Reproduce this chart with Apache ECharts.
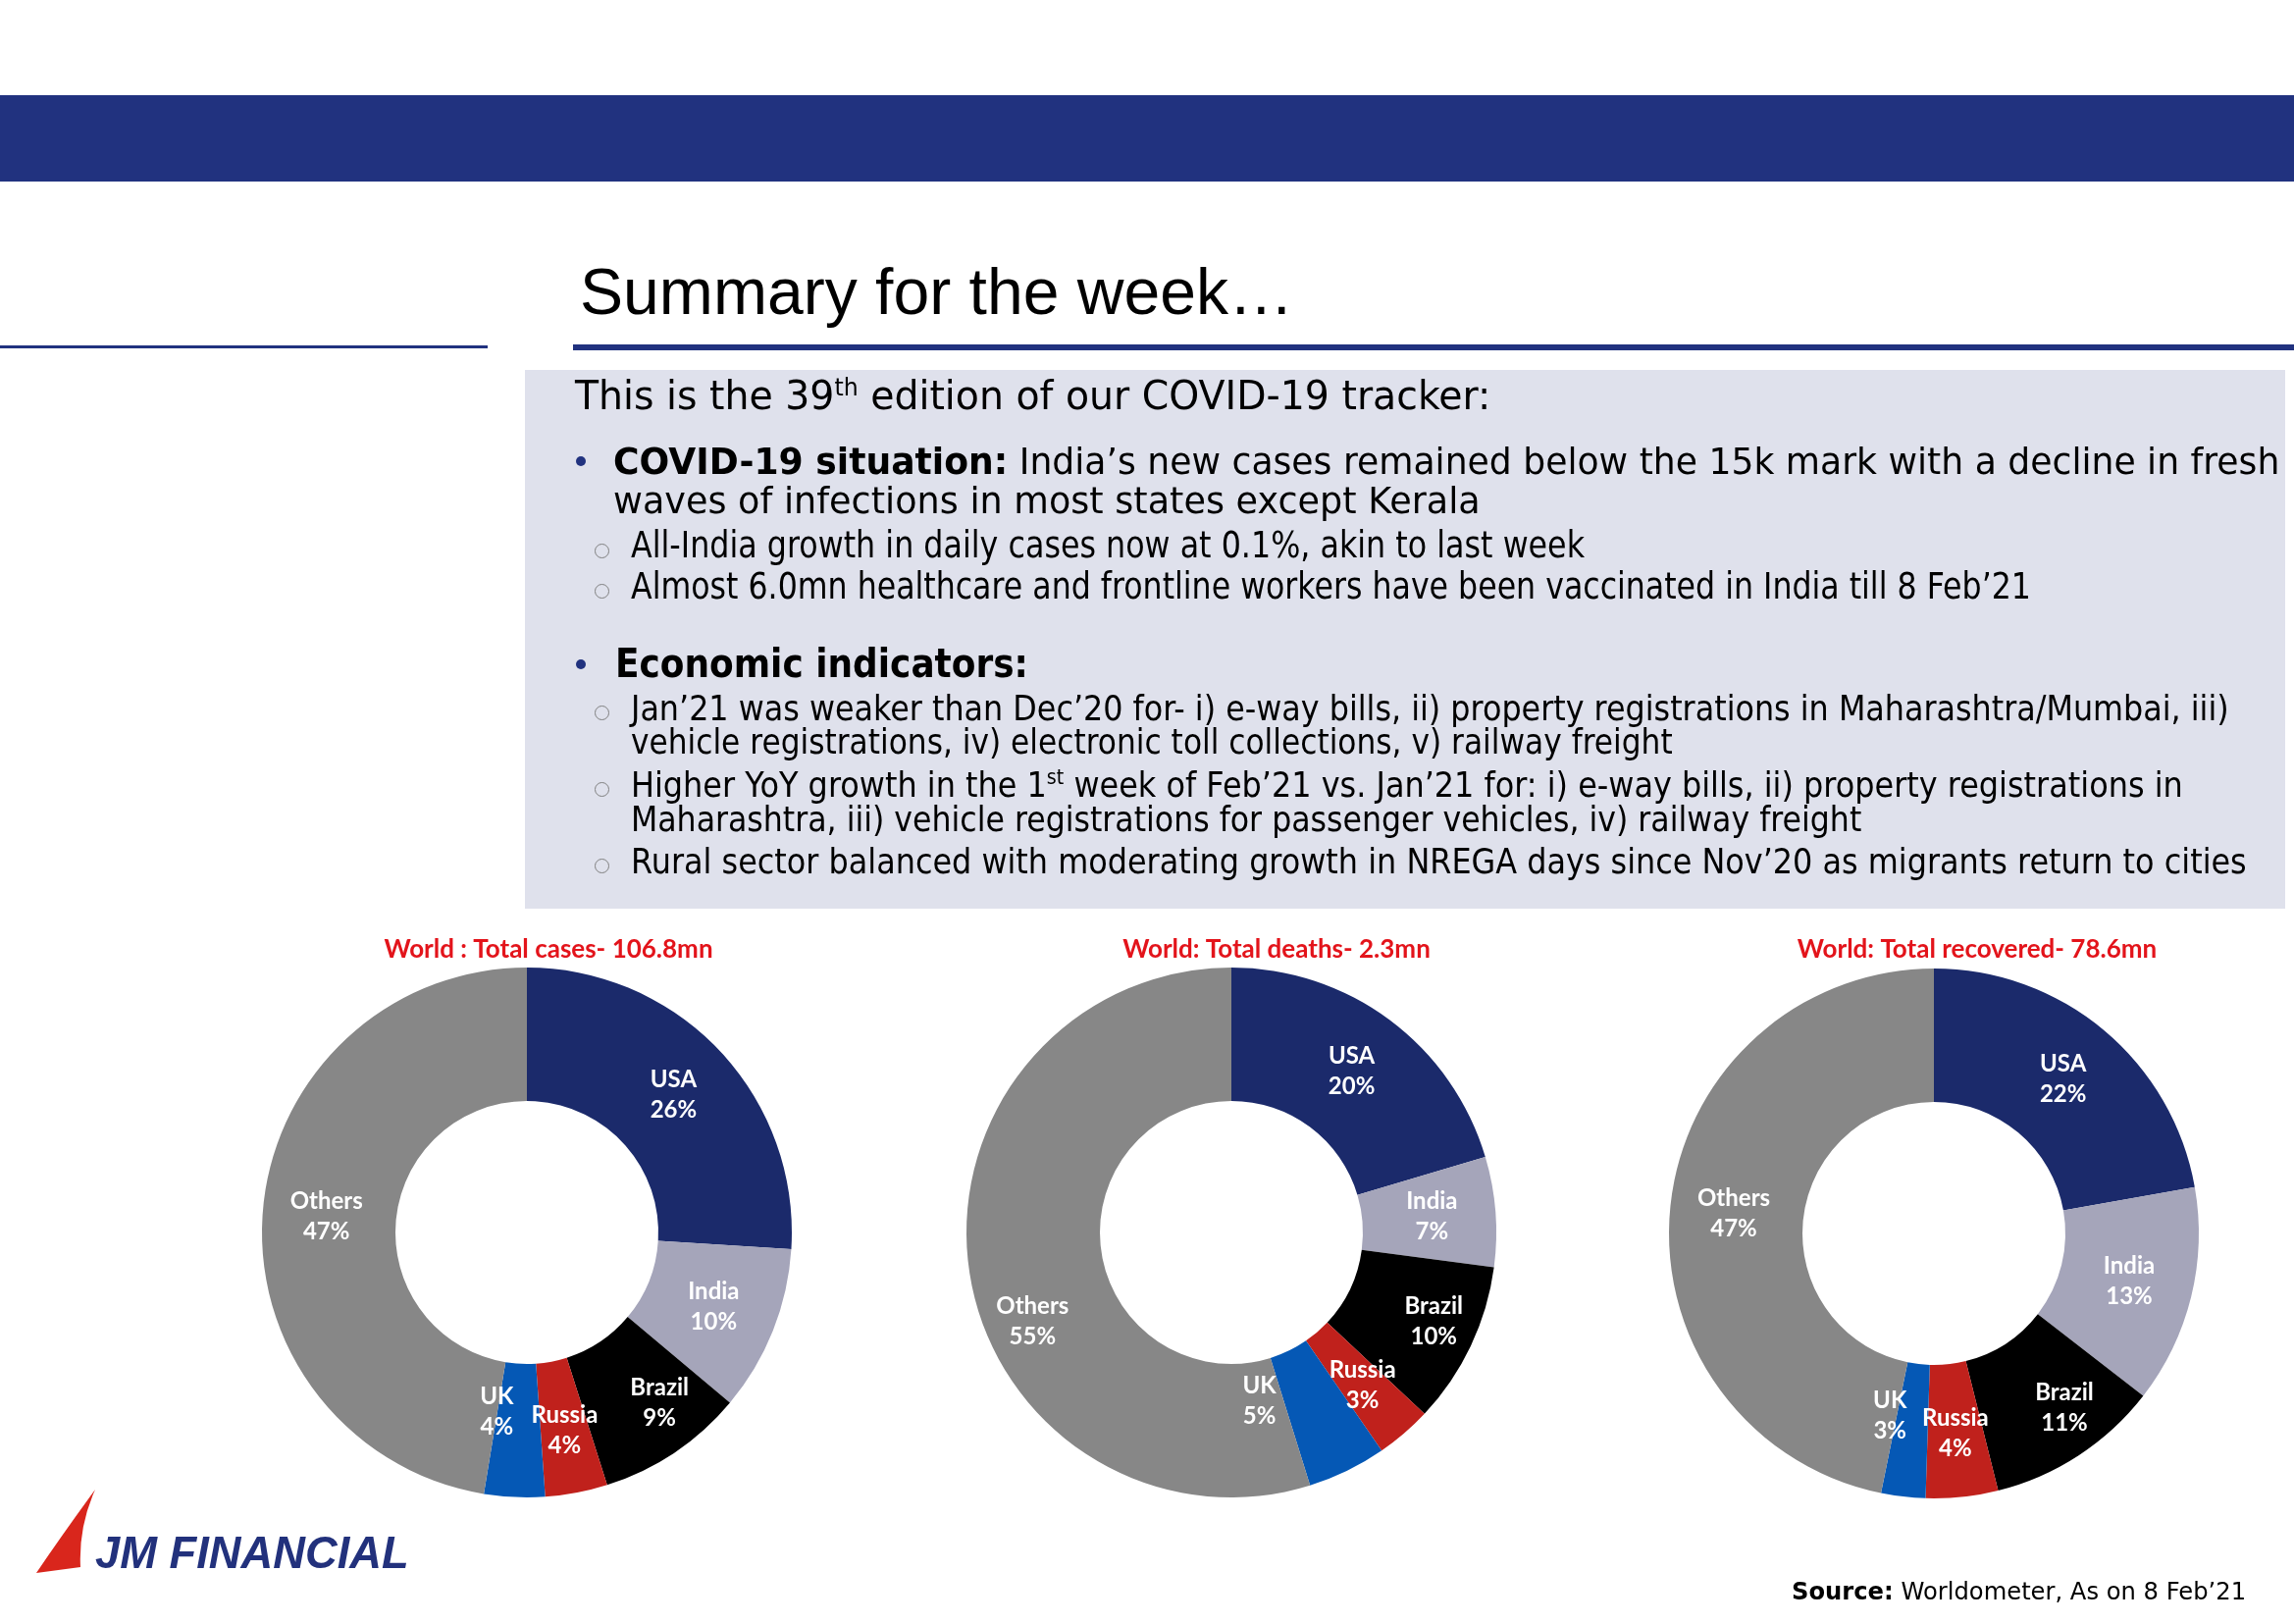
<!DOCTYPE html>
<html>
<head>
<meta charset="utf-8">
<title>Summary for the week</title>
<script src="https://cdn.jsdelivr.net/npm/echarts@6.0.0/dist/echarts.min.js"></script>
<style>
  html, body { margin: 0; padding: 0; }
  body { width: 2338px; height: 1655px; position: relative; background: #fff; overflow: hidden; }
  .box { position: absolute; }
  .t { position: absolute; white-space: nowrap; font-family: 'DejaVu Sans'; color: #000; line-height: 1; transform-origin: 0 0; }
  .t b { font-weight: bold; }
  .t sup { font-size: 0.6em; vertical-align: 0.6em; line-height: 0; }
  #chart { position: absolute; left: 0; top: 0; width: 2338px; height: 1655px; }
</style>
</head>
<body>
<div class="box" style="left:0;top:97px;width:2338px;height:88px;background:#21327f"></div>
<div class="box" style="left:0;top:352px;width:497px;height:3px;background:#21327f"></div>
<div class="box" style="left:584px;top:351px;width:1754px;height:6px;background:#21327f"></div>
<div class="box" style="left:535px;top:377px;width:1794px;height:549px;background:#dfe1ec"></div>
<svg class="box" style="left:0;top:1500px" width="120" height="120" viewBox="0 1500 120 120">
  <path d="M97,1518 Q62,1566 37,1603 L82,1597 Q80,1556 97,1518 Z" fill="#d9261c"/>
</svg>
<div id="chart"></div>

<script>
// ---------- data ----------
const countries = ['USA', 'India', 'Brazil', 'Russia', 'UK', 'Others'];
const casesShare = [26.0, 10.1, 9.0, 3.8, 3.7, 47.4];
const deathsShare = [20.4, 6.7, 9.9, 3.4, 4.8, 54.8];
const recoveredShare = [22.2, 13.3, 10.6, 4.4, 2.7, 46.8];
const chartTitles = [
    'World : Total cases- 106.8mn',
    'World: Total deaths- 2.3mn',
    'World: Total recovered- 78.6mn'
];

// ---------- slide text ----------
// x = left, b = baseline, fs = font size, w = width the line is fitted to
const lineas = [
    { x: 591, b: 320, fs: 67, w: 727, font: 'Liberation Sans', html: 'Summary for the week…' },
    { x: 586, b: 417, fs: 40, w: 933, html: 'This is the 39<sup>th</sup> edition of our COVID-19 tracker:' },
    { x: 625, b: 483, fs: 38, w: 1698, html: '<b>COVID-19 situation:</b> India’s new cases remained below the 15k mark with a decline in fresh' },
    { x: 625, b: 523, fs: 38, w: 884, html: 'waves of infections in most states except Kerala' },
    { x: 643, b: 568, fs: 37, w: 972, html: 'All-India growth in daily cases now at 0.1%, akin to last week' },
    { x: 643, b: 610, fs: 37, w: 1427, html: 'Almost 6.0mn healthcare and frontline workers have been vaccinated in India till 8 Feb’21' },
    { x: 627, b: 690, fs: 40, w: 421, html: '<b>Economic indicators:</b>' },
    { x: 643, b: 734, fs: 36, w: 1629, html: 'Jan’21 was weaker than Dec’20 for- i) e-way bills, ii) property registrations in Maharashtra/Mumbai, iii)' },
    { x: 643, b: 768, fs: 36, w: 1062, html: 'vehicle registrations, iv) electronic toll collections, v) railway freight' },
    { x: 643, b: 812, fs: 36, w: 1582, html: 'Higher YoY growth in the 1<sup>st</sup> week of Feb’21 vs. Jan’21 for: i) e-way bills, ii) property registrations in' },
    { x: 643, b: 847, fs: 36, w: 1254, html: 'Maharashtra, iii) vehicle registrations for passenger vehicles, iv) railway freight' },
    { x: 643, b: 890, fs: 36, w: 1647, html: 'Rural sector balanced with moderating growth in NREGA days since Nov’20 as migrants return to cities' },
    { x: 97, b: 1598, fs: 47, w: 320, font: 'Liberation Sans', style: 'font-weight:bold;font-style:italic;color:#22317c', html: 'JM FINANCIAL' },
    { x: 1826, b: 1630, fs: 25, w: 463, html: '<b>Source:</b> Worldometer, As on 8 Feb’21' }
];
const vinetas = [[592, 470], [592, 677]];
const circulos = [[614, 562], [614, 603], [614, 727], [614, 805], [614, 883]];

const textos = [];
lineas.forEach(l => {
    const d = document.createElement('div');
    d.className = 't';
    d.innerHTML = l.html;
    d.style.left = l.x + 'px';
    d.style.top = (l.b - 0.846 * l.fs) + 'px';
    d.style.fontSize = l.fs + 'px';
    if (l.font) d.style.fontFamily = "'" + l.font + "'";
    if (l.style) d.style.cssText += ';' + l.style;
    document.body.appendChild(d);
    textos.push([d, l.w]);
});
vinetas.forEach(([x, y]) => {
    const d = document.createElement('div');
    d.className = 'box';
    d.style.cssText += `left:${x - 5}px;top:${y - 5}px;width:10px;height:10px;border-radius:50%;background:#21327f`;
    document.body.appendChild(d);
});
circulos.forEach(([x, y]) => {
    const d = document.createElement('div');
    d.className = 'box';
    d.style.cssText += `left:${x - 8}px;top:${y - 8}px;width:13px;height:13px;border-radius:50%;border:1.5px solid #7f7f7f`;
    document.body.appendChild(d);
});

function ajustar() {
    textos.forEach(([d, w]) => {
        d.style.transform = 'scaleX(' + (w / d.offsetWidth) + ')';
    });
}
ajustar();
if (document.fonts) document.fonts.ready.then(ajustar);

// ---------- charts ----------
const sliceColors = {
    USA: '#1b2a6b', India: '#a5a5ba', Brazil: '#000000',
    Russia: '#c0211c', UK: '#0558b5', Others: '#878787'
};
const centers = [[537, 1256], [1255, 1256], [1971, 1257]];
const titleX = [559, 1301, 2015];
// small label moves, like the hand-placed labels of the original
const labelNudge = [
    { Brazil: [21, 3], UK: [-21, -22] },
    { Brazil: [21, 3], UK: [-61, -13], Others: [0, 60] },
    { Brazil: [21, 6], UK: [-21, -18] }
];

const chart = echarts.init(document.getElementById('chart'));
const shares = [casesShare, deathsShare, recoveredShare];

chart.setOption({
    animation: false,
    graphic: chartTitles.map((t, i) => ({
        type: 'text',
        x: titleX[i],
        y: 968,
        style: {
            text: t,
            fill: '#e3141b',
            font: 'bold 26px Lato',
            align: 'center',
            verticalAlign: 'middle'
        }
    })),
    series: shares.map((vals, i) => ({
        type: 'pie',
        center: centers[i],
        radius: [134, 270],
        startAngle: 90,
        clockwise: true,
        silent: true,
        label: {
            show: true,
            position: 'inside',
            formatter: p => p.name + '\n' + Math.round(p.percent) + '%',
            color: '#fff',
            fontFamily: 'Lato',
            fontWeight: 'bold',
            fontSize: 24,
            lineHeight: 31
        },
        labelLine: { show: false },
        itemStyle: { borderWidth: 0 },
        data: countries.map((c, j) => {
            const item = { name: c, value: vals[j], itemStyle: { color: sliceColors[c] } };
            if (labelNudge[i][c]) item.label = { offset: labelNudge[i][c] };
            return item;
        })
    }))
});
</script>
</body>
</html>
